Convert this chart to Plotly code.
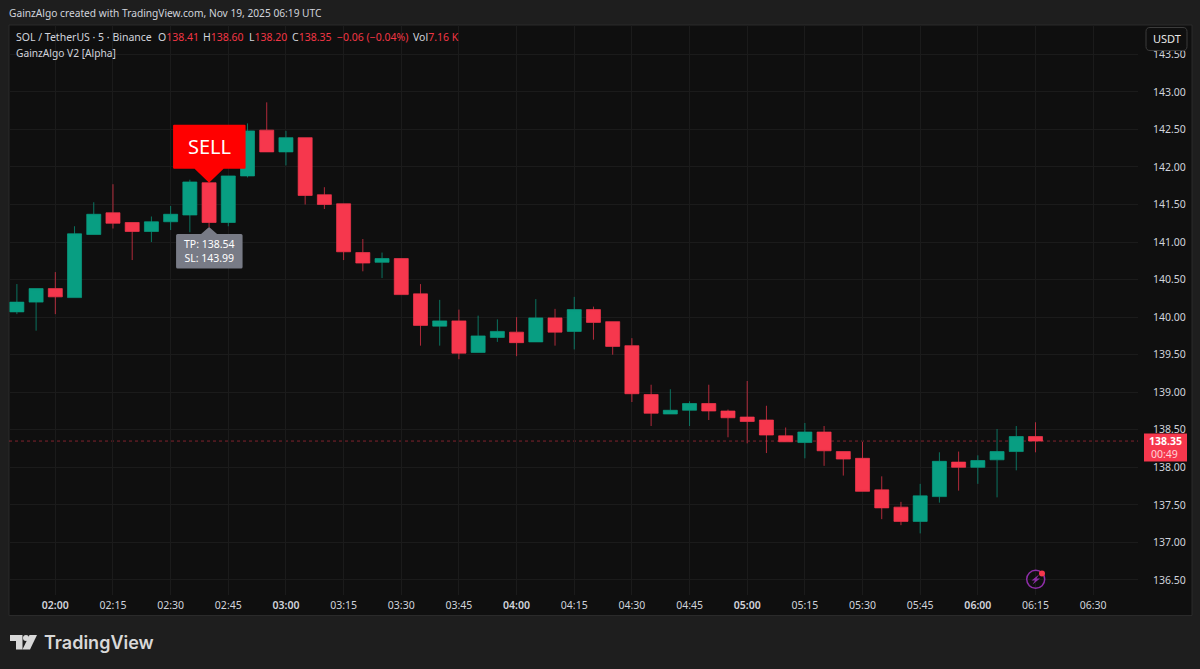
import pandas as pd
import plotly.graph_objects as go

W, H = 1200, 669
L, R, T, B = 9, 1138, 25, 595

times = pd.date_range("2025-11-19 01:50", periods=54, freq="5min")

opens = [140.07, 140.20, 140.38, 140.26, 141.10, 141.39, 141.26, 141.14, 141.27, 141.36, 141.79, 141.26, 141.88, 142.49,
         142.20, 142.39, 141.63, 141.51, 140.86, 140.73, 140.78, 140.31, 139.88, 139.95, 139.53, 139.73, 139.80, 139.67,
         139.99, 139.81, 140.10, 139.94, 139.62, 138.97, 138.71, 138.76, 138.85, 138.75, 138.67, 138.63, 138.42, 138.33,
         138.47, 138.21, 138.12, 137.70, 137.47, 137.28, 137.61, 138.07, 138.00, 138.10, 138.21, 138.41]
highs = [140.44, 140.38, 140.60, 141.21, 141.53, 141.77, 141.26, 141.34, 141.48, 141.83, 141.85, 141.88, 142.58, 142.86,
         142.48, 142.39, 141.73, 141.51, 141.04, 140.86, 140.78, 140.44, 140.23, 140.10, 140.02, 139.97, 140.00, 140.24,
         140.11, 140.27, 140.14, 139.94, 139.72, 139.10, 139.04, 138.88, 139.10, 138.77, 139.15, 138.82, 138.53, 138.59,
         138.55, 138.21, 138.34, 137.88, 137.54, 137.78, 138.20, 138.21, 138.16, 138.51, 138.55, 138.60]
lows = [140.04, 139.82, 140.04, 140.26, 141.10, 141.18, 140.76, 141.00, 141.16, 141.13, 141.20, 141.21, 141.86, 142.20,
        142.02, 141.50, 141.44, 140.76, 140.61, 140.52, 140.30, 139.62, 139.62, 139.44, 139.53, 139.67, 139.48, 139.67,
        139.62, 139.57, 139.70, 139.50, 138.87, 138.55, 138.71, 138.55, 138.63, 138.40, 138.32, 138.19, 138.34, 138.12,
        138.02, 137.89, 137.68, 137.31, 137.23, 137.12, 137.53, 137.69, 137.78, 137.60, 137.96, 138.20]
closes = [140.20, 140.38, 140.27, 141.11, 141.37, 141.25, 141.14, 141.27, 141.37, 141.80, 141.26, 141.88, 142.48, 142.20,
          142.39, 141.62, 141.50, 140.87, 140.72, 140.78, 140.30, 139.89, 139.95, 139.52, 139.75, 139.81, 139.66, 139.99,
          139.80, 140.10, 139.93, 139.61, 138.98, 138.72, 138.76, 138.85, 138.75, 138.66, 138.61, 138.43, 138.34, 138.47,
          138.22, 138.11, 137.68, 137.46, 137.28, 137.62, 138.08, 138.00, 138.09, 138.21, 138.41, 138.35]

price_ticks = [136.5, 137.0, 137.5, 138.0, 138.5, 139.0, 139.5, 140.0, 140.5, 141.0, 141.5, 142.0, 142.5, 143.0, 143.5]
time_ticks = pd.date_range("2025-11-19 02:00", "2025-11-19 06:30", freq="15min")
time_labels = [('<span style="font-weight:600">%s</span>' % t.strftime("%H:%M")) if t.minute == 0 else t.strftime("%H:%M")
               for t in time_ticks]

sell_idx = 10
tp_sl = "TP: 138.54<br>SL: 143.99"

UP = "#089e82"
DOWN = "#f6374d"
FONT = "Noto Sans"
TXT = "#d1d4dc"


# pixel position -> paper coordinate, for the chrome around the chart
def px(x):
    return (x - L) / (R - L)


def py(y):
    return (B - y) / (B - T)


fig = go.Figure()
fig.add_trace(go.Candlestick(
    x=times, open=opens, high=highs, low=lows, close=closes,
    increasing=dict(line=dict(color=UP, width=0.7), fillcolor=UP),
    decreasing=dict(line=dict(color=DOWN, width=0.7), fillcolor=DOWN),
    whiskerwidth=0,
    hoverinfo="skip",
    showlegend=False,
))

fig.add_shape(type="rect", xref="paper", yref="paper", x0=px(9), x1=px(1192), y0=py(25), y1=py(615.5),
              fillcolor="#0f0f0f", line=dict(color="#2a2a2a", width=1), layer="below")
fig.add_shape(type="line", xref="paper", yref="y", x0=0, x1=1, y0=closes[-1], y1=closes[-1],
              line=dict(color="rgba(246,55,77,0.5)", width=1, dash="dot"), layer="below")

# SELL callout, pinned on the signal candle
fig.add_shape(type="path", xref="x", yref="y", xsizemode="pixel", ysizemode="pixel",
              xanchor=times[sell_idx], yanchor=opens[sell_idx],
              path="M 0 0 L -14.5 14 L -35 14 Q -36 14 -36 15 L -36 57 Q -36 58 -35 58 L 35.5 58 Q 36.5 58 36.5 57 "
                   "L 36.5 15 Q 36.5 14 35.5 14 L 14.5 14 Z",
              fillcolor="#ff0000", line=dict(width=0), layer="above")
fig.add_annotation(x=times[sell_idx], y=opens[sell_idx], xref="x", yref="y", text="SELL", showarrow=False,
                   yshift=36, font=dict(family=FONT, size=20, color="#ffffff"))

# TP / SL bubble under the low of the same candle
fig.add_shape(type="path", xref="x", yref="y", xsizemode="pixel", ysizemode="pixel",
              xanchor=times[sell_idx], yanchor=lows[sell_idx],
              path="M 0 0 L -8 -7 L -31.5 -7 Q -33 -7 -33 -8.5 L -33 -40 Q -33 -41.5 -31.5 -41.5 L 32 -41.5 "
                   "Q 33.5 -41.5 33.5 -40 L 33.5 -8.5 Q 33.5 -7 32 -7 L 8 -7 Z",
              fillcolor="#787b86", line=dict(width=0), layer="above")
fig.add_annotation(x=times[sell_idx], y=lows[sell_idx], xref="x", yref="y", text=tp_sl, showarrow=False,
                   yshift=-24, font=dict(family=FONT, size=10.5, color="#ffffff"))

# USDT button
fig.add_shape(type="path", xref="paper", yref="paper",
              path="M %f %f L %f %f Q %f %f %f %f L %f %f Q %f %f %f %f L %f %f Q %f %f %f %f L %f %f Q %f %f %f %f Z" % (
                  px(1150), py(27.5), px(1183), py(27.5), px(1187), py(27.5), px(1187), py(31.5),
                  px(1187), py(46.5), px(1187), py(50.5), px(1183), py(50.5),
                  px(1150), py(50.5), px(1146), py(50.5), px(1146), py(46.5),
                  px(1146), py(31.5), px(1146), py(27.5), px(1150), py(27.5)),
              fillcolor="#0f0f0f", line=dict(color="#3c3c3c", width=1), layer="above")

# last price tag
fig.add_shape(type="rect", xref="paper", yref="paper", x0=px(1144), x1=px(1187), y0=py(433.5), y1=py(461.5),
              fillcolor=DOWN, line=dict(width=0), layer="above")

# bolt icon
fig.add_shape(type="circle", xref="paper", yref="paper", x0=px(1026.7), x1=px(1044.7), y0=py(570.3), y1=py(588.3),
              fillcolor="rgba(0,0,0,0)", line=dict(color="#8e2ea8", width=1.5), layer="above")
fig.add_shape(type="path", xref="paper", yref="paper",
              path="M %f %f L %f %f L %f %f L %f %f L %f %f L %f %f Z" % (
                  px(1039), py(574.5), px(1031.5), py(580.5), px(1035), py(580.5),
                  px(1032.5), py(584.5), px(1040), py(578.5), px(1036.5), py(578.5)),
              fillcolor="#8e2ea8", line=dict(width=0), layer="above")
fig.add_shape(type="circle", xref="paper", yref="paper", x0=px(1039), x1=px(1045), y0=py(570.5), y1=py(576.5),
              fillcolor=DOWN, line=dict(width=0), layer="above")

# TradingView mark
fig.add_shape(type="path", xref="paper", yref="paper",
              path="M %f %f L %f %f L %f %f L %f %f L %f %f L %f %f Z" % (
                  px(10), py(635), px(22.5), py(635), px(22.5), py(649.5),
                  px(16), py(649.5), px(16), py(641), px(10), py(641)),
              fillcolor="#d8d8d8", line=dict(width=0), layer="above")
fig.add_shape(type="circle", xref="paper", yref="paper", x0=px(23), x1=px(29), y0=py(635), y1=py(641),
              fillcolor="#d8d8d8", line=dict(width=0), layer="above")
fig.add_shape(type="path", xref="paper", yref="paper",
              path="M %f %f L %f %f L %f %f L %f %f Z" % (
                  px(29.5), py(635), px(37), py(635), px(30), py(649.5), px(22.5), py(649.5)),
              fillcolor="#d8d8d8", line=dict(width=0), layer="above")


def label(x, y, text, size=10.5, color=TXT, anchor="left", family=FONT, weight="normal"):
    fig.add_annotation(x=px(x), y=py(y), xref="paper", yref="paper", text=text, showarrow=False,
                       xanchor=anchor, yanchor="middle", borderpad=0,
                       font=dict(family=family, size=size, color=color, weight=weight))


red = '<span style="color:#f23645">%s</span>'
label(8, 13, "GainzAlgo created with TradingView.com, Nov 19, 2025 06:19 UTC", size=10.2)
label(15, 37, "SOL / TetherUS · 5 · Binance")
for x, head, value in [(157, "O", "138.41"), (202, "H", "138.60"), (248, "L", "138.20"), (291, "C", "138.35"),
                       (336, "", "−0.06 (−0.04%)"), (412, "Vol", "7.16 K")]:
    label(x, 37, head + red % value)
label(15, 53, "GainzAlgo V2 [Alpha]", size=10.2)
label(1166.5, 39, "USDT", size=11, color="#e8e8e8", anchor="center")
label(1165.5, 441, "<b>138.35</b>", size=10.5, color="#ffffff", anchor="center")
label(1164, 453.5, "00:49", size=10.5, color="#ffd4d8", anchor="center")
label(43, 642, "TradingView", size=18, color="#d8d8d8", family="Inter", weight=600)

fig.update_layout(
    width=W, height=H,
    margin=dict(l=L, r=W - R, t=T, b=H - B, pad=0),
    paper_bgcolor="#1e1e1e",
    plot_bgcolor="rgba(0,0,0,0)",
    boxgap=0.27,
    boxgroupgap=0,
    hovermode=False,
    showlegend=False,
    font=dict(family=FONT, size=10.5, color=TXT),
    xaxis=dict(
        range=["2025-11-19 01:47:57", "2025-11-19 06:41:40"],
        rangeslider=dict(visible=False),
        tickmode="array", tickvals=list(time_ticks), ticktext=time_labels,
        gridcolor="#1b1b1b", gridwidth=1, zeroline=False, showline=False,
        ticks="", ticklabelstandoff=2,
        tickfont=dict(family=FONT, size=10.5, color=TXT),
    ),
    yaxis=dict(
        range=[136.30, 143.89],
        side="right",
        tickmode="array", tickvals=price_ticks, ticktext=["%.2f" % p for p in price_ticks],
        gridcolor="#1b1b1b", gridwidth=1, zeroline=False, showline=False,
        ticks="", ticklabelstandoff=14,
        tickfont=dict(family=FONT, size=10.5, color=TXT),
    ),
)

fig.write_html("out.html", config={"displayModeBar": False},
               post_script="document.body.style.margin='0';document.body.style.background='#1e1e1e';")
